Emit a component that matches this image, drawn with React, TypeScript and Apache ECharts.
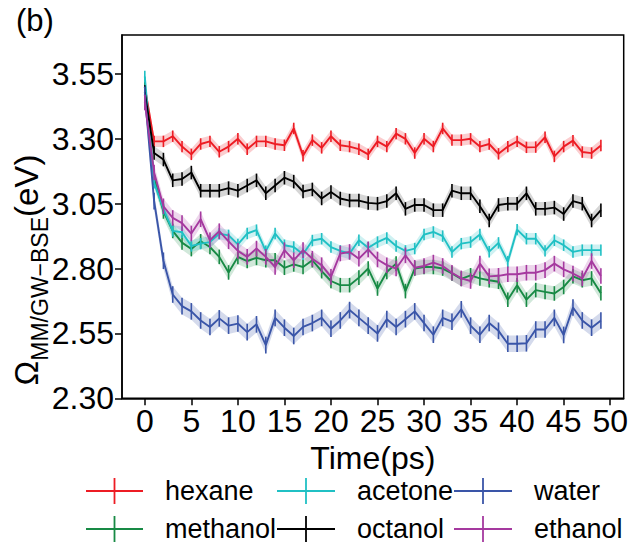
import React, { useEffect, useRef } from "react";
import * as echarts from "echarts";

const times = [0,1,2,3,4,5,6,7,8,9,10,11,12,13,14,15,16,17,18,19,20,21,22,23,24,25,26,27,28,29,30,31,32,33,34,35,36,37,38,39,40,41,42,43,44,45,46,47,48,49];

const hexane = [3.50,3.29,3.29,3.31,3.27,3.24,3.28,3.29,3.25,3.27,3.30,3.26,3.29,3.29,3.28,3.275,3.34,3.235,3.295,3.265,3.31,3.275,3.27,3.26,3.24,3.29,3.27,3.32,3.30,3.245,3.30,3.27,3.34,3.295,3.295,3.30,3.27,3.28,3.242,3.27,3.29,3.267,3.268,3.306,3.232,3.27,3.293,3.249,3.245,3.274];
const methanol = [3.50,3.15,3.02,2.945,2.90,2.875,2.905,2.883,2.845,2.785,2.845,2.829,2.841,2.832,2.832,2.803,2.816,2.806,2.832,2.79,2.752,2.736,2.736,2.765,2.80,2.723,2.787,2.819,2.713,2.80,2.806,2.806,2.80,2.781,2.76,2.774,2.762,2.755,2.749,2.68,2.736,2.68,2.717,2.71,2.704,2.729,2.77,2.755,2.762,2.705];
const acetone = [3.54,3.13,3.03,2.945,2.94,2.887,2.896,2.902,2.934,2.928,2.893,2.935,2.948,2.867,2.935,2.89,2.883,2.855,2.908,2.915,2.883,2.868,2.858,2.909,2.88,2.902,2.918,2.887,2.868,2.877,2.931,2.941,2.925,2.864,2.896,2.902,2.931,2.865,2.899,2.826,2.95,2.915,2.915,2.868,2.909,2.89,2.864,2.871,2.871,2.871];
const octanol = [3.48,3.245,3.22,3.14,3.145,3.17,3.10,3.10,3.10,3.11,3.10,3.12,3.14,3.09,3.12,3.15,3.135,3.097,3.105,3.07,3.095,3.07,3.062,3.062,3.053,3.05,3.06,3.09,3.03,3.045,3.045,3.025,3.025,3.10,3.09,3.09,3.04,2.985,3.045,3.05,3.05,3.09,3.03,3.03,3.035,3.01,3.06,3.05,2.985,3.025];
const water = [3.47,3.06,2.83,2.70,2.655,2.635,2.60,2.575,2.608,2.58,2.588,2.555,2.585,2.505,2.61,2.572,2.54,2.575,2.59,2.61,2.568,2.60,2.64,2.61,2.58,2.55,2.605,2.575,2.605,2.635,2.59,2.545,2.61,2.595,2.643,2.58,2.545,2.59,2.56,2.51,2.51,2.512,2.565,2.565,2.61,2.544,2.65,2.60,2.572,2.60];
const ethanol = [3.44,3.17,3.04,2.995,2.975,2.935,2.99,2.909,2.944,2.905,2.868,2.845,2.877,2.845,2.806,2.871,2.832,2.871,2.838,2.813,2.768,2.858,2.864,2.838,2.874,2.835,2.813,2.80,2.851,2.803,2.81,2.823,2.81,2.784,2.762,2.752,2.819,2.77,2.772,2.778,2.778,2.784,2.784,2.794,2.819,2.797,2.781,2.762,2.829,2.771];

const xTicks = [0, 5, 10, 15, 20, 25, 30, 35, 40, 45, 50];
const yTicks = [2.30, 2.55, 2.80, 3.05, 3.30, 3.55];

const solvents = [
  { name: "hexane", values: hexane, err: 0.022, color: "#ed1c24", band: "rgba(237,28,36,0.22)" },
  { name: "methanol", values: methanol, err: 0.028, color: "#188a45", band: "rgba(24,138,69,0.2)" },
  { name: "acetone", values: acetone, err: 0.022, color: "#20c0c4", band: "rgba(32,192,196,0.22)" },
  { name: "octanol", values: octanol, err: 0.026, color: "#000000", band: "rgba(0,0,0,0.16)" },
  { name: "water", values: water, err: 0.032, color: "#3a55a8", band: "rgba(58,85,168,0.22)" },
  { name: "ethanol", values: ethanol, err: 0.03, color: "#a5399f", band: "rgba(165,57,159,0.2)" },
];

const legendLayout = [
  { name: "hexane", x1: 86, x2: 143, tx: 165, y: 491 },
  { name: "methanol", x1: 86, x2: 143, tx: 165, y: 529 },
  { name: "acetone", x1: 277, x2: 335, tx: 357, y: 491 },
  { name: "octanol", x1: 277, x2: 335, tx: 357, y: 529 },
  { name: "water", x1: 454, x2: 512, tx: 534, y: 491 },
  { name: "ethanol", x1: 454, x2: 512, tx: 534, y: 529 },
];

const FONT = "'Liberation Sans', Arial, Helvetica, sans-serif";

export default function App() {
  const ref = useRef<HTMLDivElement>(null);
  useEffect(() => {
    document.body.style.margin = "0";
    const chart = echarts.init(ref.current!, undefined, { renderer: "svg" });
    const series: any[] = [];
    solvents.forEach((s) => {
      series.push({
        type: "custom",
        name: s.name + "-band",
        silent: true,
        z: 1,
        data: s.values.map((v, i) => [times[i], v - s.err, v + s.err]),
        encode: { x: 0, y: [1, 2] },
        renderItem: (params: any, api: any) => {
          if (params.dataIndex !== 0) return null;
          const upper = s.values.map((v, i) => api.coord([times[i], v + s.err]));
          const lower = s.values.map((v, i) => api.coord([times[i], v - s.err])).reverse();
          return {
            type: "polygon",
            shape: { points: upper.concat(lower) },
            style: { fill: s.band, stroke: "none" },
          };
        },
      });
    });
    solvents.forEach((s, k) => {
      series.push({
        type: "line",
        name: s.name,
        z: 3 + k,
        data: s.values.map((v, i) => [times[i], v]),
        showSymbol: false,
        symbol: "none",
        lineStyle: { color: s.color, width: 1.9 },
        itemStyle: { color: s.color },
      });
      series.push({
        type: "custom",
        name: s.name + "-err",
        z: 3 + k,
        silent: true,
        data: s.values.map((v, i) => [times[i], v - s.err, v + s.err]),
        encode: { x: 0, y: [1, 2] },
        renderItem: (params: any, api: any) => {
          const p1 = api.coord([api.value(0), api.value(1)]);
          const p2 = api.coord([api.value(0), api.value(2)]);
          return {
            type: "line",
            shape: { x1: p1[0], y1: p1[1], x2: p2[0], y2: p2[1] },
            style: { stroke: s.color, lineWidth: 1.6 },
          };
        },
      });
    });

    const graphics: any[] = [
      {
        type: "text",
        left: 16,
        top: 5,
        style: { text: "(b)", fontSize: 31, fontFamily: FONT, fill: "#000" },
      },
      {
        type: "text",
        x: 29,
        y: 270,
        rotation: Math.PI / 2,
        style: {
          text: "{a|Ω}{b|MM/GW−BSE}{a|(eV)}",
          align: "center",
          verticalAlign: "middle",
          fontFamily: FONT,
          fill: "#000",
          rich: {
            a: { fontSize: 33, fontFamily: FONT, lineHeight: 38, verticalAlign: "top", fill: "#000" },
            b: { fontSize: 23, fontFamily: FONT, lineHeight: 23, verticalAlign: "top", padding: [18, 0, 0, 0], fill: "#000" },
          },
        },
      },
    ];
    legendLayout.forEach((l) => {
      const s = solvents.find((q) => q.name === l.name)!;
      const xc = (l.x1 + l.x2) / 2;
      graphics.push({
        type: "line",
        shape: { x1: l.x1, y1: l.y, x2: l.x2, y2: l.y },
        style: { stroke: s.color, lineWidth: 1.8 },
      });
      graphics.push({
        type: "line",
        shape: { x1: xc, y1: l.y - 13, x2: xc, y2: l.y + 13 },
        style: { stroke: s.color, lineWidth: 1.8 },
      });
      graphics.push({
        type: "text",
        x: l.tx,
        y: l.y,
        style: { text: l.name, fontSize: 27, fontFamily: FONT, fill: "#000", verticalAlign: "middle", align: "left" },
      });
    });

    chart.setOption({
      animation: false,
      backgroundColor: "#fff",
      grid: { left: 122, top: 35, right: 1.6, bottom: 144.7, show: true, borderColor: "#000", borderWidth: 1.5, backgroundColor: "transparent" },
      xAxis: {
        type: "value",
        min: -2.45,
        max: 51.45,
        name: "Time(ps)",
        nameLocation: "middle",
        nameGap: 40,
        nameTextStyle: { fontSize: 32, fontFamily: FONT, color: "#000" },
        axisLine: { show: true, onZero: false, lineStyle: { color: "#000", width: 1.5 } },
        axisTick: { show: true, inside: false, length: 7, lineStyle: { color: "#000", width: 1.5 }, customValues: xTicks },
        axisLabel: { fontSize: 32, fontFamily: FONT, color: "#000", margin: 7, customValues: xTicks },
        splitLine: { show: false },
      },
      yAxis: {
        type: "value",
        min: 2.3,
        max: 3.7,
        axisLine: { show: true, onZero: false, lineStyle: { color: "#000", width: 1.5 } },
        axisTick: { show: true, inside: false, length: 7, lineStyle: { color: "#000", width: 1.5 }, customValues: yTicks },
        axisLabel: { fontSize: 32, fontFamily: FONT, color: "#000", margin: 8, customValues: yTicks, formatter: (v: number) => v.toFixed(2) },
        splitLine: { show: false },
      },
      graphic: graphics,
      series,
    });
    return () => chart.dispose();
  }, []);
  return <div ref={ref} style={{ position: "absolute", left: 0, top: 0, width: 631, height: 543 }} />;
}
